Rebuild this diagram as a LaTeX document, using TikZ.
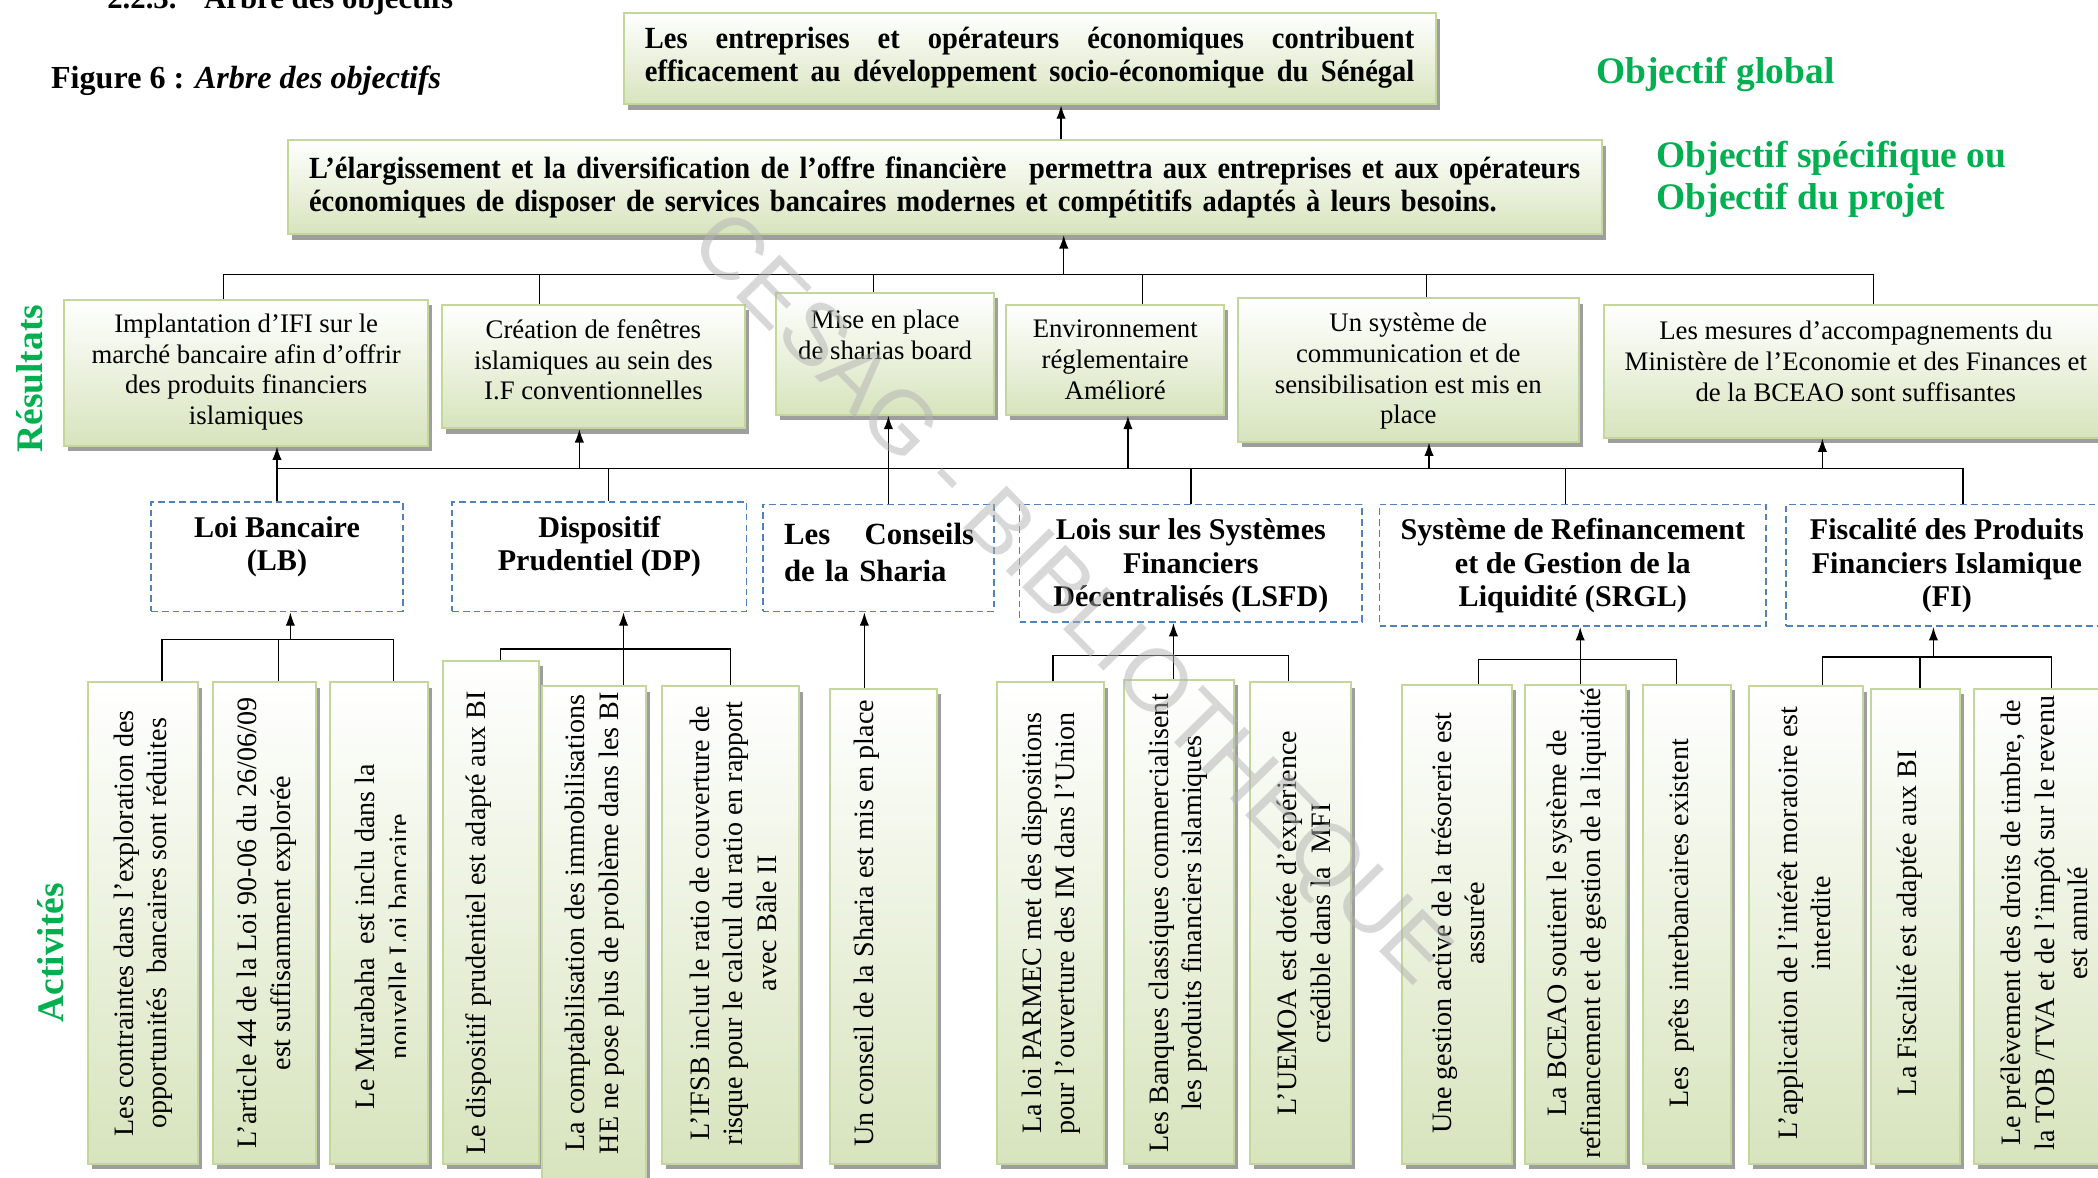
\documentclass[tikz,border=0pt]{standalone}
\usepackage{fontspec}
\setmainfont{Liberation Serif}
\newfontfamily\condf[FakeStretch=0.925]{Liberation Serif}
\newfontfamily\wmfont{Liberation Sans}
\usetikzlibrary{shadows,fit,arrows.meta,calc}
\definecolor{boxgreen}{HTML}{D7E4BD}
\definecolor{boxborder}{HTML}{C3D69B}
\definecolor{labgreen}{HTML}{00B050}
\definecolor{dashblue}{HTML}{4F81BD}
\tikzset{
  gbox/.style={draw=boxborder, line width=1.5pt, top color=white, bottom color=boxgreen,
    drop shadow={shadow xshift=3pt, shadow yshift=-4pt, fill=black!38, opacity=1}, inner sep=0pt},
  dbox/.style={draw=dashblue, line width=1.3pt, dash pattern=on 5pt off 3pt, inner sep=0pt},
  conn/.style={line width=1pt},
  arr/.style={line width=1pt, -{Latex[length=10pt,width=7pt]}},
  lab/.style={text=labgreen, font=\fontsize{28}{32}\selectfont\bfseries, align=left, inner sep=0pt},
  topfont/.style={font=\condf\bfseries\fontsize{23}{25}\selectfont, align=left, inner sep=0pt},
  rtext/.style={font=\fontsize{20}{23}\selectfont, align=center, inner sep=0pt},
  dtext/.style={font=\bfseries\fontsize{22.5}{25}\selectfont, align=center, inner sep=0pt},
  atext/.style={font=\fontsize{21}{25}\selectfont, align=center, rotate=90, inner sep=0pt},
}
\newcommand\actbox[7]{%
  \node[gbox, fit={(#2,#3)(#4,#5)}] (#1) {};
  \node[atext] (#1t) at (#6,690) {#7};}
\newcommand\fullline[2]{\hbox to #1{\spaceskip=.25em plus 1fil\relax #2}}
\begin{document}
\begin{tikzpicture}[x=1pt,y=-1pt]
\useasboundingbox (0,0) rectangle (1568,880);

% headings
\node[anchor=base west, font=\bfseries\fontsize{23}{26}\selectfont, inner sep=0pt] (title) at (80,6) {2.2.3.\hspace{0.9em}Arbre des objectifs};
\node[anchor=west, font=\fontsize{24}{26}\selectfont, inner sep=0pt] (fig) at (38,60) {\textbf{Figure 6 :} \textbf{\textit{Arbre des objectifs}}};

% global objective
\node[gbox, fit={(466,10)(1073,78)}] (G) {};
\node[topfont, text width=575pt] (Gt) at (769.5,43) {\fullline{575pt}{Les entreprises et opérateurs économiques contribuent}\\\fullline{575pt}{efficacement au développement socio-économique du Sénégal}};
\node[lab, anchor=center] (Lg) at (1282,56) {Objectif global};

% specific objective
\node[gbox, fit={(215,105)(1197,175)}] (S) {};
\node[topfont, text width=950pt] (St) at (706,140) {\fullline{950pt}{L’élargissement et la diversification de l’offre financière\hspace{.4em} permettra aux entreprises et aux opérateurs}\\économiques de disposer de services bancaires modernes et compétitifs adaptés à leurs besoins.};
\node[lab, anchor=west] (Ls) at (1238,134) {Objectif spécifique ou\\Objectif du projet};

% results
\node[lab, rotate=90] (Lr) at (22,283) {Résultats};
\node[gbox, fit={(48,224)(320,333)}] (R1) {};
\node[rtext] (R1t) at (184,278) {Implantation d’IFI sur le\\marché bancaire afin d’offrir\\des produits financiers\\islamiques};
\node[gbox, fit={(330,228)(557,320)}] (R2) {};
\node[rtext] (R2t) at (443.5,269) {Création de fenêtres\\islamiques au sein des\\I.F conventionnelles};
\node[gbox, fit={(580,219)(743,310)}] (R3) {};
\node[rtext] (R3t) at (661.5,250.5) {Mise en place\\de sharias board};
\node[gbox, fit={(752,228)(915,310)}] (R4) {};
\node[rtext] (R4t) at (833.5,269) {Environnement\\réglementaire\\Amélioré};
\node[gbox, fit={(925,223)(1180,330)}] (R5) {};
\node[rtext] (R5t) at (1052.5,277.5) {Un système de\\communication et de\\sensibilisation est mis en\\place};
\node[gbox, fit={(1199,228)(1585,327)}] (R6) {};
\node[rtext] (R6t) at (1387,270) {Les mesures d’accompagnements du\\Ministère de l’Economie et des Finances et\\de la BCEAO sont suffisantes};

% domains
\node[dbox, fit={(113,375)(301,457)}] (D1) {};
\node[dtext] (D1t) at (207,408.5) {Loi Bancaire\\(LB)};
\node[dbox, fit={(338,375)(558,457)}] (D2) {};
\node[dtext] (D2t) at (448,408.5) {Dispositif\\Prudentiel (DP)};
\node[dbox, fit={(570,377)(743,457)}] (D3) {};
\node[dtext, font=\bfseries\fontsize{23}{28}\selectfont, text width=142pt, align=left] (D3t) at (657,413) {\fullline{142pt}{Les Conseils}\\de la Sharia};
\node[dbox, fit={(762,377)(1018,465)}] (D4) {};
\node[dtext] (D4t) at (890,423) {Lois sur les Systèmes\\Financiers\\Décentralisés (LSFD)};
\node[dbox, fit={(1031,377)(1320,468)}] (D5) {};
\node[dtext] (D5t) at (1175.5,423) {Système de Refinancement\\et de Gestion de la\\Liquidité (SRGL)};
\node[dbox, fit={(1335,377)(1585,468)}] (D6) {};
\node[dtext] (D6t) at (1455,423) {Fiscalité des Produits\\Financiers Islamique\\(FI)};

% activities
\node[lab, rotate=90] (La) at (38,712) {Activités};
\actbox{A1}{66}{510}{148}{870}{107}{Les contraintes dans l’exploration des\\opportunités\ \ bancaires sont réduites}
\actbox{A2}{159}{510}{236}{870}{199.5}{L’article 44 de la Loi 90-06 du 26/06/09\\est suffisamment explorée}
\node[gbox, fit={(247,510)(320,870)}] (A3) {};
\begin{scope}
\clip (247,505) rectangle (303,880);
\node[atext] (A3t) at (285.5,700) {Le Murabaha\ \ est inclu dans la\\nouvelle Loi bancaire};
\end{scope}
\actbox{A4}{331}{494}{403}{870}{358}{Le dispositif prudentiel est adapté aux BI}
\actbox{A5}{405}{513}{483}{885}{444.5}{La comptabilisation des immobilisations\\HE ne pose plus de problème dans les BI}
\actbox{A6}{495}{513}{597}{870}{548}{L’IFSB inclut le ratio de couverture de\\risque pour le calcul du ratio en rapport\\avec Bâle II}
\actbox{A7}{620}{515}{700}{870}{648}{Un conseil de la Sharia est mis en place}
\actbox{A8}{745}{510}{825}{870}{785.5}{La loi PARMEC met des dispositions\\pour l’ouverture des IM dans l’Union}
\actbox{A9}{840}{508}{922}{870}{880.5}{Les Banques classiques commercialisent\\les produits financiers islamiques}
\actbox{A10}{934}{510}{1010}{870}{974.5}{L’UEMOA est dotée d’expérience\\crédible dans la\ \ MFI}
\actbox{A11}{1048}{512}{1130}{870}{1090}{Une gestion active de la trésorerie est\\assurée}
\actbox{A12}{1140}{512}{1215}{870}{1178.5}{La BCEAO soutient le système de\\refinancement et de gestion de la liquidité}
\actbox{A13}{1228}{512}{1294}{870}{1257}{Les\ \ prêts interbancaires existent}
\actbox{A14}{1307}{513}{1392}{870}{1348.5}{L’application de l’intérêt moratoire est\\interdite}
\actbox{A15}{1398}{515}{1465}{870}{1427}{La Fiscalité est adaptée aux BI}
\actbox{A16}{1475}{515}{1585}{870}{1528}{Le prélèvement des droits de timbre, de\\la TOB /TVA et de l’impôt sur le revenu\\est annulé}

% connectors: top
\coordinate (c0) at (793,205);
\draw[arr] (S.north -| c0) -- (G.south -| c0);
\coordinate (rb1) at (167,205);
\coordinate (rb2) at (1400,205);
\draw[conn] (rb1 |- R1.north) -- (rb1) -- (rb2) -- (rb2 |- R6.north);
\coordinate (rt2) at (403,205);
\coordinate (rt3) at (653,205);
\coordinate (rt4) at (854,205);
\coordinate (rt5) at (1066,205);
\draw[conn] (rt2) -- (rt2 |- R2.north);
\draw[conn] (rt3) -- (rt3 |- R3.north);
\draw[conn] (rt4) -- (rt4 |- R4.north);
\draw[conn] (rt5) -- (rt5 |- R5.north);
\coordinate (c1) at (795,205);
\draw[arr] (c1) -- (c1 |- S.south);

% middle bar
\coordinate (mb1) at (207,350);
\coordinate (mb2) at (1467,350);
\draw[conn] (mb1) -- (mb2) -- (mb2 |- D6.north);
\draw[arr] (mb1 |- D1.north) -- (mb1 |- R1.south);
\coordinate (m2) at (433,350);
\coordinate (m4) at (843,350);
\coordinate (m5) at (1068,350);
\coordinate (m6) at (1362,350);
\draw[arr] (m2) -- (m2 |- R2.south);
\draw[arr] (m4) -- (m4 |- R4.south);
\draw[arr] (m5) -- (m5 |- R5.south);
\draw[arr] (m6) -- (m6 |- R6.south);
\coordinate (m3) at (664,350);
\draw[arr] (m3 |- D3.north) -- (m3 |- R3.south);
\coordinate (t2) at (455,350);
\coordinate (t4) at (890,350);
\coordinate (t5) at (1170,350);
\draw[conn] (t2) -- (t2 |- D2.north);
\draw[conn] (t4) -- (t4 |- D4.north);
\draw[conn] (t5) -- (t5 |- D5.north);

% activity groups
\coordinate (g1a) at (121,478);
\coordinate (g1b) at (208,478);
\coordinate (g1c) at (294,478);
\coordinate (g1m) at (217,478);
\draw[conn] (g1a |- A1.north) -- (g1a) -- (g1c) -- (g1c |- A3.north);
\draw[conn] (g1b) -- (g1b |- A2.north);
\draw[arr] (g1m) -- (g1m |- D1.south);
\coordinate (g2a) at (374,485);
\coordinate (g2b) at (466,485);
\coordinate (g2c) at (546,485);
\draw[conn] (g2a |- A4.north) -- (g2a) -- (g2c) -- (g2c |- A6.north);
\draw[conn] (g2b) -- (g2b |- A5.north);
\draw[arr] (g2b) -- (g2b |- D2.south);
\coordinate (g3) at (646,515);
\draw[arr] (g3 |- A7.north) -- (g3 |- D3.south);
\coordinate (g4a) at (787,490);
\coordinate (g4b) at (877,490);
\coordinate (g4c) at (963,490);
\draw[conn] (g4a |- A8.north) -- (g4a) -- (g4c) -- (g4c |- A10.north);
\draw[arr] (g4b |- A9.north) -- (g4b |- D4.south);
\coordinate (g5a) at (1105,493);
\coordinate (g5b) at (1181,493);
\coordinate (g5c) at (1253,493);
\draw[conn] (g5a |- A11.north) -- (g5a) -- (g5c) -- (g5c |- A13.north);
\draw[arr] (g5b |- A12.north) -- (g5b |- D5.south);
\coordinate (g6a) at (1362,491);
\coordinate (g6b) at (1435,491);
\coordinate (g6c) at (1533,491);
\coordinate (g6m) at (1445,491);
\draw[conn] (g6a |- A14.north) -- (g6a) -- (g6c) -- (g6c |- A16.north);
\draw[conn] (g6b) -- (g6b |- A15.north);
\draw[arr] (g6m) -- (g6m |- D6.south);

% watermark
\node[rotate=-45.5, font=\wmfont\fontsize{66}{66}\selectfont, text=black!30, opacity=0.5, inner sep=0pt] (wm) at (798,450) {CESAG - BIBLIOTHEQUE};
\end{tikzpicture}
\end{document}
